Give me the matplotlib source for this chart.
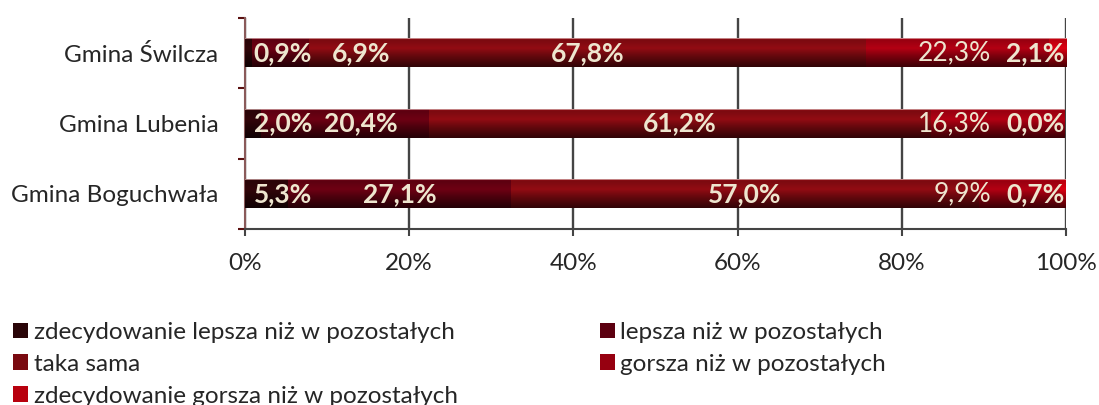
import numpy as np
import matplotlib
matplotlib.use("Agg")
import matplotlib.pyplot as plt
from matplotlib.patches import Patch

plt.rcParams["font.family"] = ["Lato", "DejaVu Sans"]

# data
gminy = ["Gmina Świlcza", "Gmina Lubenia", "Gmina Boguchwała"]
zdec_lepsza = [0.9, 2.0, 5.3]
lepsza = [6.9, 20.4, 27.1]
taka_sama = [67.8, 61.2, 57.0]
gorsza = [22.3, 16.3, 9.9]
zdec_gorsza = [2.1, 0.0, 0.7]

series_names = [
    "zdecydowanie lepsza niż w pozostałych",
    "lepsza niż w pozostałych",
    "taka sama",
    "gorsza niż w pozostałych",
    "zdecydowanie gorsza niż w pozostałych",
]
series = [zdec_lepsza, lepsza, taka_sama, gorsza, zdec_gorsza]
colors = ["#2a0508", "#5c0010", "#7a0a10", "#960010", "#b8000e"]
label_color = "#eee6cf"
text_color = "#262626"

fig = plt.figure(figsize=(10.99, 4.05), dpi=100)
ax = fig.add_axes([0.2229, 0.4346, 0.7471, 0.521])

ypos = np.arange(len(gminy))[::-1]
bar_h = 0.4

# vertical shading profile (top -> bottom), fakes the glossy excel look
t = np.linspace(0, 1, 40)
shade = np.interp(t, [0, 0.05, 0.35, 0.6, 1.0], [1.35, 1.0, 1.2, 0.85, 0.4])

left = np.zeros(len(gminy))
for vals, col in zip(series, colors):
    vals = np.array(vals)
    bars = ax.barh(ypos, vals, left=left, height=bar_h, color=col, zorder=2)
    base = np.array(matplotlib.colors.to_rgb(col))
    img = np.clip(base[None, :] * shade[:, None], 0, 1)
    img[0] = [0.85, 0.7, 0.7]
    img = img[:, None, :]
    for b in bars:
        if b.get_width() <= 0:
            continue
        x0, y0 = b.get_x(), b.get_y()
        ax.imshow(img, extent=(x0, x0 + b.get_width(), y0, y0 + b.get_height()),
                  aspect="auto", origin="upper", zorder=3, interpolation="bilinear")
    left += vals

# data labels (nudged so they fit inside the bar like in excel)
for i, y in enumerate(ypos):
    vals_i = np.array([s[i] for s in series])
    starts = np.cumsum(vals_i) - vals_i
    centers = starts + vals_i / 2
    txt = [f"{v:.1f}%".replace(".", ",") for v in vals_i]
    x1 = max(centers[0], 4.6)
    x2 = max(centers[1], 14.1)
    x3 = centers[2]
    x4r = min(centers[3] + 4.4, 90.9)
    x5 = min(centers[4], 96.3)
    kw = dict(color=label_color, fontsize=19, va="center", zorder=5)
    ax.text(x1, y, txt[0], ha="center", fontweight="bold", **kw)
    ax.text(x2, y, txt[1], ha="center", fontweight="bold", **kw)
    ax.text(x3, y, txt[2], ha="center", fontweight="bold", **kw)
    ax.text(x4r, y, txt[3], ha="right", **kw)
    ax.text(x5, y, txt[4], ha="center", fontweight="bold", **kw)

ax.set_xlim(0, 100)
ax.set_ylim(-0.5, len(gminy) - 0.5)
ax.set_xticks(np.arange(0, 101, 20))
ax.set_xticklabels([f"{v}%" for v in range(0, 101, 20)])
ax.set_yticks(ypos)
ax.set_yticklabels(gminy)
ax.set_yticks(np.arange(-0.5, len(gminy), 1), minor=True)

ax.grid(axis="x", color="#444444", linewidth=1.7, zorder=0)
ax.set_axisbelow(True)

for s in ["top", "right"]:
    ax.spines[s].set_visible(False)
ax.spines["left"].set_color("#8a5a5a")
ax.spines["left"].set_linewidth(1.5)
ax.spines["bottom"].set_color("#444444")
ax.spines["bottom"].set_linewidth(1.5)

ax.tick_params(axis="y", which="major", length=0, pad=19, labelsize=17.5, labelcolor=text_color)
ax.tick_params(axis="y", which="minor", length=5, width=1.5, color="#5a1010", direction="out")
ax.tick_params(axis="x", length=5, width=1.5, color="#444444", pad=12, labelsize=17.5,
               labelcolor=text_color)

handles = [Patch(facecolor=c, edgecolor="none") for c in colors]
order = [0, 2, 4, 1, 3]
fig.legend([handles[k] for k in order], [series_names[k] for k in order],
           loc="upper left", bbox_to_anchor=(0.012, 0.205), ncol=2, frameon=False,
           fontsize=17.5, handlelength=0.62, handleheight=0.62, handletextpad=0.22,
           columnspacing=5.85, labelspacing=0.45, borderaxespad=0, borderpad=0,
           labelcolor=text_color)

fig.savefig("out.png", dpi=100)
